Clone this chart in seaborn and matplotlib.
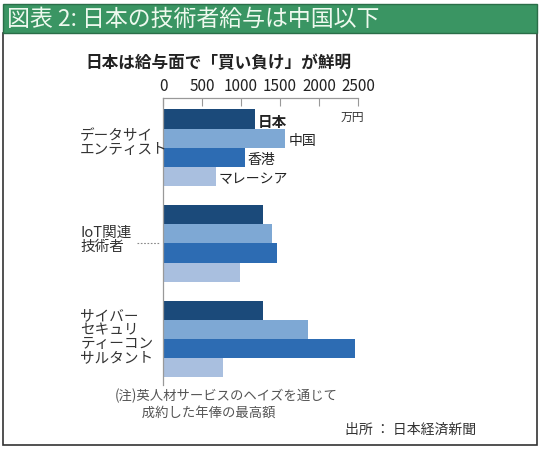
import matplotlib
matplotlib.use("Agg")
import matplotlib.pyplot as plt
import matplotlib.patches as mpatches
import matplotlib.transforms as mtransforms
import seaborn as sns
import pandas as pd

# ---- data ----
jobs = ["データサイ\nエンティスト", "IoT関連\n技術者", "サイバー\nセキュリ\nティーコン\nサルタント"]
countries = ["日本", "中国", "香港", "マレーシア"]
japan = [1180, 1280, 1280]
china = [1570, 1400, 1860]
hongkong = [1050, 1460, 2460]
malaysia = [680, 990, 770]
xticks = [0, 500, 1000, 1500, 2000, 2500]
colors = ["#1b4a7a", "#7ea8d4", "#2d6cb3", "#a9bfdf"]

title = "図表 2: 日本の技術者給与は中国以下"
subtitle = "日本は給与面で「買い負け」が鮮明"
unit = "万円"
note = "(注)英人材サービスのヘイズを通じて\n　　成約した年俸の最高額"
source = "出所 ： 日本経済新聞"

rows = []
for series, name in zip([japan, china, hongkong, malaysia], countries):
    for job, v in zip(jobs, series):
        rows.append({"job": job, "country": name, "value": v})
df = pd.DataFrame(rows)

sns.set_style("white")
plt.rcParams["font.family"] = ["Noto Sans CJK JP", "DejaVu Sans"]

W, H = 540, 449
fig = plt.figure(figsize=(W / 100, H / 100), dpi=100)
fig.patch.set_facecolor("white")

def fx(px):
    return px / W

def fy(py):
    return 1 - py / H

# frame and green title bar
fig.patches.append(mpatches.Rectangle((fx(3), fy(445)), fx(534), (445 - 33) / H,
                                      transform=fig.transFigure, fill=False,
                                      edgecolor="#333333", linewidth=1.2))
fig.patches.append(mpatches.Rectangle((fx(3), fy(33)), fx(534), 29 / H,
                                      transform=fig.transFigure, facecolor="#3a9563",
                                      edgecolor="#2a6e48", linewidth=1.0))
fig.text(fx(7), fy(19), title, color="#eef9ee", fontsize=16.5, va="center", ha="left")

fig.text(fx(218), fy(63), subtitle, fontsize=12, fontweight="bold", ha="center",
         va="center", color="#222222")

ax = fig.add_axes([fx(163), fy(385), fx(358 - 163), (385 - 98) / H])
sns.barplot(data=df, y="job", x="value", hue="country", hue_order=countries,
            order=jobs, palette=colors, saturation=1, orient="h", width=0.8,
            linewidth=0, legend=False, ax=ax)

ax.set_xlim(0, 2500)
ax.set_ylim(2.48, -0.52)
ax.set_xticks(xticks)
ax.xaxis.set_ticks_position("top")
ax.xaxis.set_label_position("top")
ax.tick_params(axis="x", direction="in", length=6, width=0.8, color="#999999",
               labelsize=11, pad=2, labelcolor="#222222")
ax.set_yticks([])
ax.set_xlabel("")
ax.set_ylabel("")
for s in ["right", "bottom"]:
    ax.spines[s].set_visible(False)
for s in ["top", "left"]:
    ax.spines[s].set_color("#999999")
    ax.spines[s].set_linewidth(0.9)

# inline country labels on first group
label_sizes = [10.5, 10, 10, 10]
weights = ["bold", "normal", "normal", "normal"]
for i, name in enumerate(countries):
    bar = ax.containers[i][0]
    x = bar.get_x() + bar.get_width()
    y = bar.get_y() + bar.get_height() / 2
    ax.annotate(name, (x, y), xytext=(2, -2), textcoords="offset points",
                fontsize=label_sizes[i], fontweight=weights[i], va="center",
                ha="left", color="#222222")

ax.text(0.97, 0.934, unit, transform=ax.transAxes, fontsize=8.5, ha="center",
        va="center", color="#333333")

# category labels
trans = mtransforms.blended_transform_factory(ax.transAxes, ax.transData)
offsets = [-0.05, -0.04, -0.02]
for i, job in enumerate(jobs):
    ax.text(-0.425, i + offsets[i], job, transform=trans, fontsize=10.5, ha="left",
            va="center", linespacing=1.0, color="#333333")
ax.plot([-0.135, -0.015], [1, 1], transform=trans, linestyle=(0, (1.5, 1.5)),
        color="#888888", linewidth=0.8, clip_on=False)

fig.text(fx(115), fy(404), note, fontsize=9.6, ha="left", va="center",
         color="#555555", linespacing=1.2)
fig.text(fx(345), fy(430), source, fontsize=10, ha="left", va="center",
         color="#333333")

fig.savefig("out.png", dpi=100)
